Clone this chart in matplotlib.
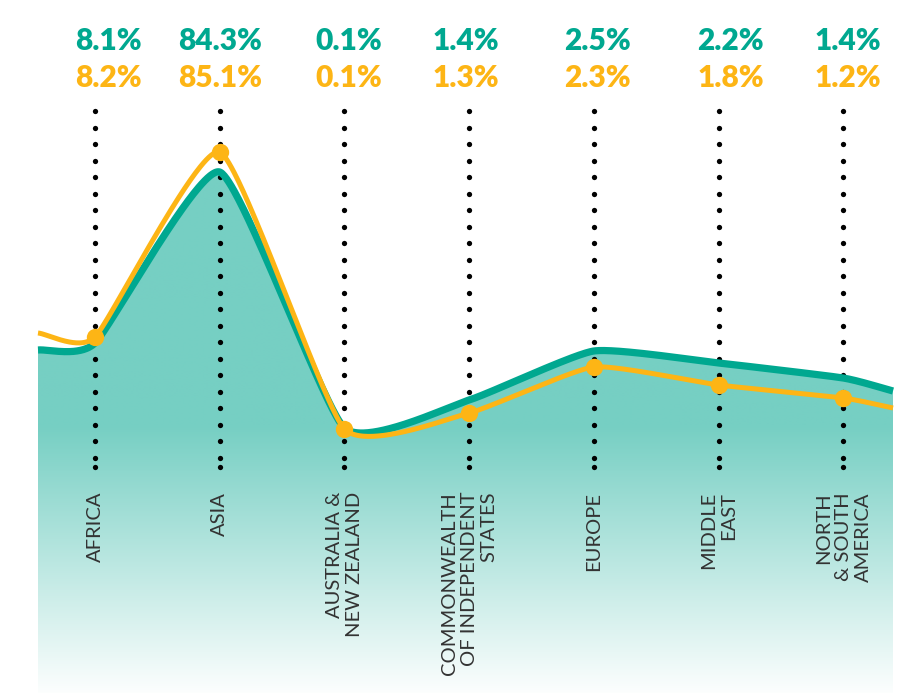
import numpy as np
import matplotlib
matplotlib.use("Agg")
import matplotlib.pyplot as plt
from matplotlib.colors import to_rgb
from matplotlib.patches import Polygon

# ---------------- data ----------------
categories = ["AFRICA", "ASIA", "AUSTRALIA &\nNEW ZEALAND",
              "COMMONWEALTH\nOF INDEPENDENT\nSTATES", "EUROPE",
              "MIDDLE\nEAST", "NORTH\n& SOUTH\nAMERICA"]
teal_labels = ["8.1%", "84.3%", "0.1%", "1.4%", "2.5%", "2.2%", "1.4%"]
orange_labels = ["8.2%", "85.1%", "0.1%", "1.3%", "2.3%", "1.8%", "1.2%"]
# curve heights as drawn (arbitrary drawing units), incl. lead-in / lead-out ends
teal_level = [343, 350, 521, 265, 293, 342, 330, 315, 302]
orange_level = [360, 356, 541, 264, 280, 326, 308, 295, 285]

# ---------------- layout ----------------
W, H = 900, 693
X0, STEP = 95.0, 124.7          # pixel x of first category, spacing
X_START_PX, X_END_PX = 38.0, 893.0
TEAL = "#00a890"
ORANGE = "#fdb515"
FILL = "#76cfc3"
TEXT_COL = "#333333"
label_dx_px = [13, 0, 4, -3, 4, 12, 5]
TENSION = 0.5


def px2x(px):
    return (px - X0) / STEP


def py2y(py):
    return H - py


def cardinal(xs, ys, n=80, c=TENSION):
    """Parametric cardinal spline through points (computed in pixel space)."""
    P = np.column_stack([X0 + np.asarray(xs, float) * STEP, np.asarray(ys, float)])
    Pe = np.vstack([2 * P[0] - P[1], P, 2 * P[-1] - P[-2]])
    T = (1 - c) * (Pe[2:] - Pe[:-2]) / 2.0
    out = []
    for i in range(len(P) - 1):
        t = np.linspace(0, 1, n, endpoint=(i == len(P) - 2))[:, None]
        h00 = 2 * t**3 - 3 * t**2 + 1
        h10 = t**3 - 2 * t**2 + t
        h01 = -2 * t**3 + 3 * t**2
        h11 = t**3 - t**2
        out.append(h00 * P[i] + h10 * T[i] + h01 * P[i + 1] + h11 * T[i + 1])
    out = np.vstack(out)
    return px2x(out[:, 0]), out[:, 1]


n_cat = len(categories)
cat_x = np.arange(n_cat)
curve_x = np.concatenate([[px2x(X_START_PX)], cat_x, [px2x(X_END_PX)]])

fig = plt.figure(figsize=(W / 100, H / 100), dpi=100)
ax = fig.add_axes([0, 0, 1, 1])
ax.axis("off")

tx, ty = cardinal(curve_x, teal_level)
ox, oy = cardinal(curve_x, orange_level)

# gradient fill under teal curve
gy = np.linspace(0, H, 700)
frac = np.clip((py2y(426) - gy) / (py2y(426) - py2y(698)), 0, 1)
c0 = np.array(to_rgb(FILL))
cols = c0[None, :] * (1 - frac[:, None]) + np.ones(3)[None, :] * frac[:, None]
img = np.repeat(cols[:, None, :], 2, axis=1)
im = ax.imshow(img, extent=[tx[0], tx[-1], 0, H], origin="lower",
               aspect="auto", zorder=1, interpolation="bilinear")
verts = np.vstack([np.column_stack([tx, ty]), [[tx[-1], 0], [tx[0], 0]]])
clip = Polygon(verts, closed=True, transform=ax.transData, fc="none", ec="none")
ax.add_patch(clip)
im.set_clip_path(clip)
ax.set_xlim(px2x(0), px2x(W))
ax.set_ylim(0, H)

# dotted guide lines
dot_top, dot_bot, dot_step = 111, 467, 16.5
dots_py = np.append(np.arange(dot_top, dot_bot - 5, dot_step), dot_bot)
for xc in cat_x:
    ax.plot(np.full(len(dots_py), xc), py2y(dots_py), "o", color="black",
            ms=3.8, mew=0, zorder=2)

# lines
ax.plot(tx, ty, color=TEAL, lw=5.2, solid_capstyle="butt", zorder=3)
ax.plot(ox, oy, color=ORANGE, lw=3.6, solid_capstyle="butt", zorder=4)
ax.plot(cat_x, orange_level[1:-1], "o", color=ORANGE, ms=12.5, mew=0, zorder=5)

# value labels
for i in range(n_cat):
    xl = px2x(X0 + i * STEP + label_dx_px[i])
    ax.text(xl, py2y(41), teal_labels[i], color=TEAL, fontsize=21.5,
            fontweight="heavy", family=["Lato", "DejaVu Sans"],
            ha="center", va="center", zorder=6)
    ax.text(xl, py2y(78), orange_labels[i], color=ORANGE, fontsize=21.5,
            fontweight="heavy", family=["Lato", "DejaVu Sans"],
            ha="center", va="center", zorder=6)

# category labels
for i in range(n_cat):
    ax.text(cat_x[i], py2y(492), categories[i], rotation=90, ha="center",
            va="top", multialignment="right", fontsize=14.5,
            fontweight="normal", family=["Lato", "DejaVu Sans"],
            color=TEXT_COL, linespacing=1.2, zorder=6)

fig.savefig("out.png", dpi=100)
